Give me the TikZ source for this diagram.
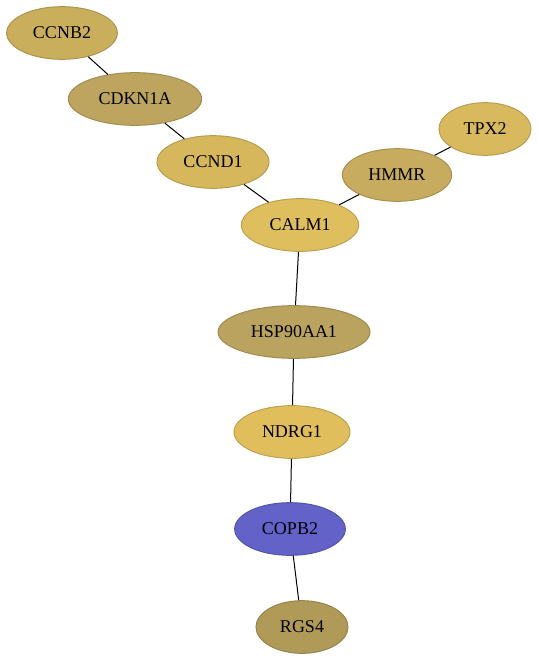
\documentclass[tikz,border=0pt]{standalone}
\usepackage{fontspec}
\setmainfont{Liberation Serif}
\usetikzlibrary{shapes.geometric}
\usepackage{xcolor}

\definecolor{gold1}{HTML}{C9AE5C}
\definecolor{gold2}{HTML}{BEA55F}
\definecolor{gold3}{HTML}{D6B75C}
\definecolor{gold4}{HTML}{D8B95E}
\definecolor{gold5}{HTML}{C7AB5E}
\definecolor{gold6}{HTML}{DFBE5E}
\definecolor{gold7}{HTML}{BAA35E}
\definecolor{gold8}{HTML}{E0BE5C}
\definecolor{blue1}{HTML}{6262C9}
\definecolor{gold9}{HTML}{B09A58}

\begin{document}
\begin{tikzpicture}[x=0.75pt, y=-0.75pt,
  gene/.style={ellipse, draw=#1!85!black, fill=#1, line width=0.75pt, minimum height=39.5pt, inner sep=0pt, font=\fontsize{13.5}{16}\selectfont},
  gene/.default=gold1,
  link/.style={draw=black, line width=0.75pt}]
  \useasboundingbox (0,0) rectangle (537,660);
  \node[gene=gold1, minimum width=83pt] (ccnb2) at (62,33) {CCNB2};
  \node[gene=gold2, minimum width=100pt] (cdkn1a) at (135,99) {CDKN1A};
  \node[gene=gold3, minimum width=84pt] (ccnd1) at (213,162) {CCND1};
  \node[gene=gold4, minimum width=69pt] (tpx2) at (485,129) {TPX2};
  \node[gene=gold5, minimum width=82pt] (hmmr) at (397,175) {HMMR};
  \node[gene=gold6, minimum width=88pt] (calm1) at (300,225) {CALM1};
  \node[gene=gold7, minimum width=114pt] (hsp90aa1) at (294,332) {HSP90AA1};
  \node[gene=gold8, minimum width=87pt] (ndrg1) at (292,432) {NDRG1};
  \node[gene=blue1, minimum width=83pt] (copb2) at (290,529) {COPB2};
  \node[gene=gold9, minimum width=69pt] (rgs4) at (302,627) {RGS4};
  \draw[link] (ccnb2) -- (cdkn1a);
  \draw[link] (cdkn1a) -- (ccnd1);
  \draw[link] (ccnd1) -- (calm1);
  \draw[link] (tpx2) -- (hmmr);
  \draw[link] (hmmr) -- (calm1);
  \draw[link] (calm1) -- (hsp90aa1);
  \draw[link] (hsp90aa1) -- (ndrg1);
  \draw[link] (ndrg1) -- (copb2);
  \draw[link] (copb2) -- (rgs4);
\end{tikzpicture}
\end{document}
